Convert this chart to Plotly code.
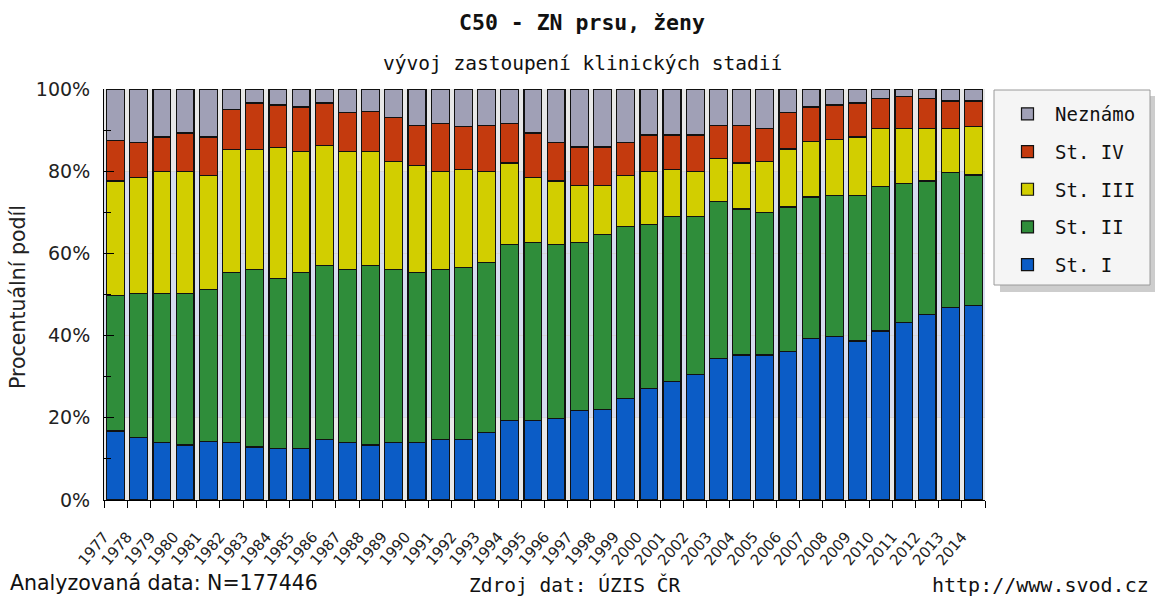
import plotly.graph_objects as go

years = list(range(1977, 2015))
year_labels = [str(y) for y in years]

st1 = [16.8, 15.3, 13.9, 13.4, 14.3, 13.9, 12.9, 12.5, 12.5, 14.8, 13.9, 13.4, 13.9,
       13.9, 14.8, 14.8, 16.4, 19.3, 19.3, 19.8, 21.7, 22.0, 24.6, 27.1, 28.9, 30.6,
       34.4, 35.3, 35.3, 36.2, 39.2, 39.7, 38.7, 41.1, 43.1, 45.1, 46.9, 47.4]
st2 = [33.0, 35.0, 36.4, 36.9, 37.0, 41.4, 43.2, 41.3, 42.8, 42.3, 42.2, 43.7, 42.2,
       41.4, 41.3, 41.8, 41.3, 42.9, 43.3, 42.4, 40.9, 42.6, 42.0, 39.9, 40.1, 38.3,
       38.3, 35.5, 34.6, 35.1, 34.5, 34.4, 35.4, 35.1, 34.0, 32.5, 32.7, 31.7]
st3 = [27.8, 28.2, 29.7, 29.7, 27.7, 30.0, 29.2, 32.0, 29.5, 29.2, 28.7, 27.7, 26.3,
       26.1, 23.9, 23.9, 22.3, 19.8, 15.9, 15.4, 14.0, 12.0, 12.4, 13.0, 11.5, 11.1,
       10.3, 11.2, 12.5, 14.1, 13.6, 13.7, 14.2, 14.1, 13.2, 12.7, 10.7, 11.7]
st4 = [9.8, 8.4, 8.3, 9.3, 9.3, 9.8, 11.3, 10.3, 10.8, 10.3, 9.4, 9.8, 10.7,
       9.8, 11.7, 10.3, 11.2, 9.7, 10.8, 9.3, 9.3, 9.3, 7.9, 8.8, 8.3, 8.8,
       8.2, 9.2, 7.9, 8.8, 8.3, 8.3, 8.3, 7.3, 7.8, 7.3, 6.8, 6.3]
unknown = [12.6, 13.1, 11.7, 10.7, 11.7, 4.9, 3.4, 3.9, 4.4, 3.4, 5.8, 5.4, 6.9,
           8.8, 8.3, 9.2, 8.8, 8.3, 10.7, 13.1, 14.1, 14.1, 13.1, 11.2, 11.2, 11.2,
           8.8, 8.8, 9.7, 5.8, 4.4, 3.9, 3.4, 2.4, 1.9, 2.4, 2.9, 2.9]

series = [
    ("St. I", st1, "#0b5cc6", 5),
    ("St. II", st2, "#2f8d3a", 4),
    ("St. III", st3, "#d2ce00", 3),
    ("St. IV", st4, "#c43a0e", 2),
    ("Neznámo", unknown, "#a0a0b6", 1),
]

fig = go.Figure()
for name, vals, col, rank in series:
    fig.add_trace(go.Bar(
        x=years, y=vals, name=name, legendgroup=name, legendrank=rank,
        marker=dict(color=col, line=dict(color="#111111", width=1.2)),
        width=0.77,
    ))

mono = "DejaVu Sans Mono"
sans = "DejaVu Sans"

# plot area in page pixels: x 104..985, y 89..500
PX0, PX1, PY0, PY1 = 104, 985, 89, 500


def px(x):
    return (x - PX0) / (PX1 - PX0)


def py(y):
    return (PY1 - y) / (PY1 - PY0)


# tick boundaries between the years; each label sits at the left boundary of its year
boundaries = [y - 0.5 for y in years] + [years[-1] + 0.5]
boundary_text = year_labels + [""]

fig.update_layout(
    width=1155, height=599,
    barmode="stack",
    paper_bgcolor="white",
    plot_bgcolor="#e8e8e8",
    margin=dict(l=PX0, r=1155 - PX1, t=PY0, b=599 - PY1),
    showlegend=True,
    legend=dict(
        x=px(1000), y=py(95), xanchor="left", yanchor="top",
        bgcolor="rgba(0,0,0,0)", borderwidth=0,
        font=dict(family=mono, size=19, color="#111"),
        traceorder="grouped", tracegroupgap=10,
        itemwidth=45,
    ),
    xaxis=dict(
        range=[years[0] - 0.5, years[-1] + 0.5],
        tickmode="array", tickvals=boundaries, ticktext=boundary_text,
        ticks="outside", ticklen=7, tickcolor="black", tickwidth=1,
        showline=True, linecolor="black", linewidth=1,
        showgrid=False, zeroline=False,
        tickangle=-50,
        tickfont=dict(family=sans, size=15, color="#222"),
        ticklabelstandoff=14,
    ),
    yaxis=dict(
        range=[0, 100],
        tickvals=[0, 20, 40, 60, 80, 100],
        ticktext=["0%", "20%", "40%", "60%", "80%", "100%"],
        ticks="inside", ticklen=10, tickcolor="black", tickwidth=1,
        minor=dict(dtick=10, ticks="inside", ticklen=7, tickcolor="black", showgrid=False),
        showline=True, linecolor="black", linewidth=1,
        showgrid=True, gridcolor="#d6d6d6",
        tickfont=dict(family=sans, size=19, color="#222"),
        ticklabelstandoff=9,
        zeroline=False,
    ),
)

# light blue band in the plot background
fig.add_shape(type="rect", xref="paper", yref="y", x0=0, x1=1, y0=20, y1=80,
              fillcolor="#d6dcef", line=dict(width=0), layer="below")
# legend box with shadow
fig.add_shape(type="rect", xref="paper", yref="paper",
              x0=px(1000), x1=px(1156), y0=py(292), y1=py(96),
              fillcolor="#cdcdcd", line=dict(width=0), layer="below")
fig.add_shape(type="rect", xref="paper", yref="paper",
              x0=px(994), x1=px(1150), y0=py(285), y1=py(90),
              fillcolor="#f5f5f5", line=dict(color="#9a9a9a", width=1), layer="below")

anns = [
    dict(text="<b>C50 - ZN prsu, ženy</b>", x=582, y=23, font=dict(family=mono, size=21.5, color="#111")),
    dict(text="vývoj zastoupení klinických stadií", x=582, y=64, font=dict(family=mono, size=19.5, color="#111")),
    dict(text="Analyzovaná data: N=177446", x=8, y=583, xanchor="left", font=dict(family=sans, size=20.5, color="#111")),
    dict(text="Zdroj dat: ÚZIS ČR", x=575, y=585, font=dict(family=mono, size=19.5, color="#111")),
    dict(text="http://www.svod.cz", x=1151, y=585, xanchor="right", font=dict(family=mono, size=20, color="#111")),
]
for a in anns:
    fig.add_annotation(
        text=a["text"], xref="paper", yref="paper",
        x=px(a["x"]), y=py(a["y"]),
        xanchor=a.get("xanchor", "center"), yanchor="middle",
        showarrow=False, font=a["font"],
    )
fig.add_annotation(
    text="Procentuální podíl", xref="paper", yref="paper",
    x=px(18), y=py(297), xanchor="center", yanchor="middle",
    textangle=-90, showarrow=False, font=dict(family=sans, size=20.5, color="#222"),
)

fig.write_html("out.html", config={"displayModeBar": False},
               post_script="document.body.style.margin='0px';")
